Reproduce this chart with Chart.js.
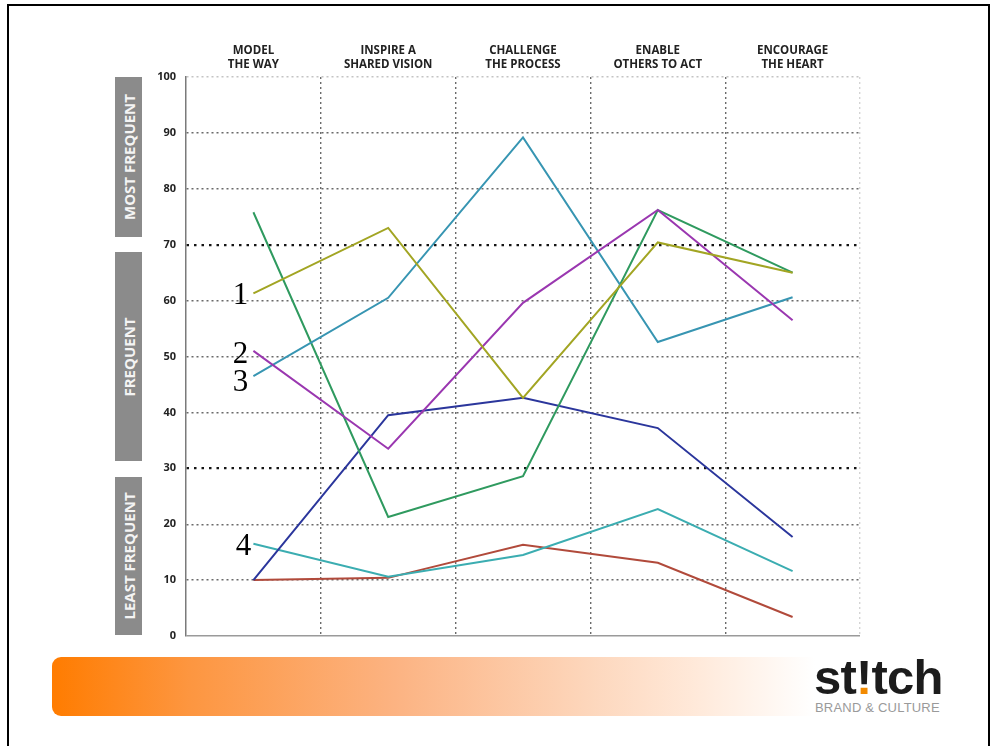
<!DOCTYPE html>
<html>
<head>
<meta charset="utf-8">
<script src="https://cdn.jsdelivr.net/npm/chart.js@4/dist/chart.umd.min.js"></script>
<style>
  html, body { margin: 0; padding: 0; background: #fff; }
  body { width: 992px; height: 746px; position: relative; overflow: hidden; font-family: "Open Sans", "Liberation Sans", sans-serif; }
  #frame { position: absolute; left: 7px; top: 4px; width: 983px; height: 800px; border: 2px solid #000; box-sizing: border-box; }
  .band { position: absolute; left: 115px; width: 27px; background: #8b8b8b; }
  .band span { position: absolute; left: 50%; top: 50%; transform: translate(-50%, -50%) rotate(-90deg);
               color: #f4f4f4; font: bold 15px "Open Sans", sans-serif; white-space: nowrap; }
  #bar { position: absolute; left: 52px; top: 657px; width: 763px; height: 59px; border-radius: 9px 0 0 9px;
         background: linear-gradient(to right, #ff7c00 0%, #fd9640 18%, #fcb382 45%, #fdd6bb 70%, #ffeadb 85%, #ffffff 100%); }
  #logo { position: absolute; left: 814px; top: 653px; font: bold 49px "Liberation Sans", Arial, sans-serif;
          line-height: 1; color: #1c1c1c; letter-spacing: -0.8px; white-space: nowrap; }
  #logo .bang { background: linear-gradient(to bottom, #1c1c1c 0%, #1c1c1c 64%, #f28a00 64%, #f28a00 100%);
                -webkit-background-clip: text; background-clip: text; color: transparent; }
  #tagline { position: absolute; left: 815px; top: 701px; font: 13px "Liberation Sans", Arial, sans-serif;
             color: #9a9a9a; white-space: nowrap; line-height: 1; letter-spacing: 0.2px; }
  #chart { position: absolute; left: 0; top: 0; }
</style>
</head>
<body>
<div id="frame"></div>
<div class="band" style="top:77px;height:160px;"><span>MOST FREQUENT</span></div>
<div class="band" style="top:252px;height:209px;"><span>FREQUENT</span></div>
<div class="band" style="top:477px;height:158px;"><span>LEAST FREQUENT</span></div>
<div id="bar"></div>
<div id="logo">st<span class="bang">!</span>tch</div>
<div id="tagline">BRAND &amp; CULTURE</div>
<canvas id="chart" width="992" height="746"></canvas>

<script>
// Five leadership practices, scored 0–100
const categories = [
  ["MODEL", "THE WAY"],
  ["INSPIRE A", "SHARED VISION"],
  ["CHALLENGE", "THE PROCESS"],
  ["ENABLE", "OTHERS TO ACT"],
  ["ENCOURAGE", "THE HEART"]
];

const yMin = 0;
const yMax = 100;
const yStep = 10;

// one line per respondent
const olive  = [61.3, 73.0, 42.6, 70.4, 65.0];
const purple = [51.0, 33.5, 59.6, 76.2, 56.5];
const steel  = [46.5, 60.5, 89.2, 52.6, 60.6];
const green  = [75.8, 21.3, 28.6, 76.2, 65.0];
const navy   = [10.0, 39.5, 42.6, 37.2, 17.7];
const aqua   = [16.5, 10.6, 14.5, 22.7, 11.6];
const rust   = [10.0, 10.4, 16.3, 13.1, 3.4];

// numbered callouts next to the first point of a series
const markers = [
  { text: "1", series: 0 },
  { text: "2", series: 1 },
  { text: "3", series: 2 },
  { text: "4", series: 5 }
];
const markerNudge = { "1": [-13, 11], "2": [-13, 12.5], "3": [-13, 15], "4": [-10, 11.5] };

const seriesColors = ["#a2a523", "#9a37b0", "#3795b2", "#2f9a5f", "#2b369c", "#3badb1", "#b14a3b"];
const seriesData = [olive, purple, steel, green, navy, aqua, rust];

const markerPlugin = {
  id: "seriesMarkers",
  afterDatasetsDraw(chart) {
    const ctx = chart.ctx;
    ctx.save();
    ctx.font = '31px "Liberation Serif", "Times New Roman", serif';
    ctx.fillStyle = "#000";
    ctx.textAlign = "center";
    ctx.textBaseline = "alphabetic";
    markers.forEach(m => {
      const pt = chart.getDatasetMeta(m.series).data[0];
      const [dx, dy] = markerNudge[m.text];
      ctx.fillText(m.text, pt.x + dx, pt.y + dy);
    });
    ctx.restore();
  }
};

const tickVal = c => (c.tick ? c.tick.value : null);
const isBand = v => v === 70 || v === 30;

new Chart(document.getElementById("chart"), {
  type: "line",
  data: {
    labels: categories,
    datasets: seriesData.map((d, i) => ({
      data: d,
      borderColor: seriesColors[i],
      borderWidth: 2,
      pointRadius: 0,
      tension: 0,
      fill: false
    }))
  },
  options: {
    responsive: false,
    animation: false,
    devicePixelRatio: 1,
    layout: { padding: { left: 0, right: 132, top: 0, bottom: 110 } },
    plugins: { legend: { display: false }, tooltip: { enabled: false } },
    scales: {
      x: {
        position: "top",
        offset: true,
        afterFit: s => { s.height = 77; },
        grid: {
          offset: true,
          drawTicks: false,
          // first boundary sits under the y axis line, the closing one on the right is faint
          color: c => !c.tick ? "#d4d4d4" : (c.index === 0 ? "rgba(0,0,0,0)" : "#6a6a6a"),
          lineWidth: 1.4
        },
        border: { display: false, dash: [2, 3] },
        ticks: {
          autoSkip: false,
          maxRotation: 0,
          padding: 5,
          color: "#222",
          font: { family: '"Open Sans", sans-serif', size: 11.5, weight: "bold", lineHeight: 1.22 }
        }
      },
      y: {
        min: yMin,
        max: yMax,
        afterFit: s => { s.width = 186; },
        ticks: {
          stepSize: yStep,
          padding: 10,
          color: "#222",
          font: { family: '"Open Sans", sans-serif', size: 11, weight: "bold" }
        },
        grid: {
          drawTicks: false,
          color: c => {
            const v = tickVal(c);
            if (v === 0) return "#9a9a9a";
            if (v === 100) return "#c4c4c4";
            if (isBand(v)) return "#151515";
            return "#6a6a6a";
          },
          lineWidth: c => (isBand(tickVal(c)) ? 2.3 : 1.4)
        },
        border: {
          display: true,
          color: "#7a7a7a",
          width: 1.5,
          dash: c => {
            const v = tickVal(c);
            if (v === 0) return [];
            if (isBand(v)) return [2.5, 5];
            return [2, 3];
          }
        }
      }
    }
  },
  plugins: [markerPlugin]
});
</script>
</body>
</html>
